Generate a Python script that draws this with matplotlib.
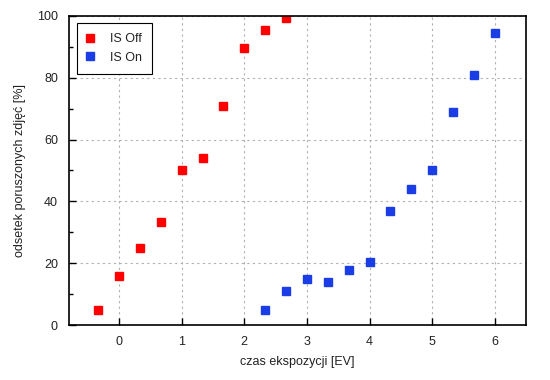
import matplotlib
matplotlib.use("Agg")
import matplotlib.pyplot as plt
from matplotlib.ticker import MultipleLocator

plt.rcParams['font.family'] = ['Liberation Sans', 'DejaVu Sans']

# dane
x_off = [-1/3, 0, 1/3, 2/3, 1, 4/3, 5/3, 2, 7/3, 8/3]
y_off = [4.8, 15.8, 24.9, 33.3, 50.1, 54.0, 70.9, 89.6, 95.5, 99.4]
x_on = [7/3, 8/3, 3, 10/3, 11/3, 4, 13/3, 14/3, 5, 16/3, 17/3, 6]
y_on = [4.8, 10.9, 14.8, 13.8, 17.7, 20.3, 36.8, 43.9, 50.1, 68.9, 80.9, 94.5]

fig = plt.figure(figsize=(5.5, 3.8), dpi=100)
ax = fig.add_axes([0.1255, 0.1447, 0.8309, 0.8133])

ax.plot(x_off, y_off, 's', color='#ff0000', markersize=5.8, label='IS Off', linestyle='none')
ax.plot(x_on, y_on, 's', color='#1a3de6', markersize=5.8, label='IS On', linestyle='none')

ax.set_xlim(-0.8, 6.5)
ax.set_ylim(0, 100)
ax.xaxis.set_major_locator(MultipleLocator(1))
ax.yaxis.set_major_locator(MultipleLocator(20))
ax.yaxis.set_minor_locator(MultipleLocator(10))
ax.tick_params(direction='in', length=5, width=1, labelsize=9, pad=8,
               top=False, right=False, labelcolor='#222222')
ax.tick_params(which='minor', direction='in', length=3, width=1, top=False, right=False)
ax.grid(True, which='major', linestyle=(0, (2, 3)), color='#b0b0b0', linewidth=0.8)
for s in ax.spines.values():
    s.set_linewidth(1.2)

ax.set_xlabel('czas ekspozycji [EV]', fontsize=9, labelpad=6, color='#222222')
ax.set_ylabel('odsetek poruszonych zdjęć [%]', fontsize=9, labelpad=8, color='#222222')

leg = ax.legend(loc='upper left', fontsize=9, fancybox=False, framealpha=1,
                edgecolor='black', borderpad=0.8, handletextpad=1.3,
                handlelength=0.6, borderaxespad=0.6, labelspacing=0.5)
leg.get_frame().set_linewidth(0.8)
for t in leg.get_texts():
    t.set_color('#222222')

fig.savefig('out.png', dpi=100)
